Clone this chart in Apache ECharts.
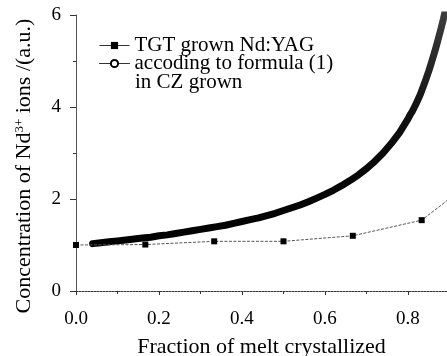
<!DOCTYPE html>
<html><head><meta charset="utf-8">
<script src="https://cdn.jsdelivr.net/npm/echarts@6/dist/echarts.min.js"></script>
<style>html,body{margin:0;padding:0;background:#fff}#c{width:447px;height:356px}</style>
</head><body><div id="c"></div>
<script>
const seriesNames = ['TGT grown Nd:YAG', 'accoding to formula (1)'];
const legendExtra = 'in CZ grown';
const xTitle = 'Fraction of melt crystallized';
const yTitle = 'Concentration of Nd{sup|3+} ions /(a.u.)';

const tgtX = [0, 0.167, 0.333, 0.5, 0.667, 0.833, 1.0];
const tgtY = [1.00, 1.01, 1.08, 1.08, 1.20, 1.54, 2.70];

const formulaX = [0.04,0.06,0.08,0.10,0.12,0.14,0.16,0.18,0.20,0.22,0.24,0.26,0.28,0.30,0.32,0.34,0.36,0.38,0.40,0.42,0.44,0.46,0.48,0.50,0.52,0.54,0.56,0.58,0.60,0.62,0.64,0.66,0.68,0.70,0.72,0.74,0.76,0.78,0.80,0.805,0.81,0.815,0.82,0.825,0.83,0.835,0.84,0.845,0.85,0.855,0.86,0.865,0.87,0.875,0.88,0.885,0.89,0.895];
const formulaY = [1.03,1.05,1.07,1.09,1.11,1.13,1.15,1.17,1.20,1.22,1.25,1.28,1.31,1.34,1.37,1.40,1.43,1.47,1.51,1.55,1.59,1.64,1.69,1.75,1.81,1.87,1.94,2.02,2.10,2.19,2.29,2.40,2.52,2.66,2.82,3.00,3.21,3.45,3.74,3.83,3.90,3.99,4.08,4.18,4.28,4.40,4.52,4.65,4.78,4.92,5.07,5.22,5.38,5.55,5.72,5.90,6.10,6.28];

const xMin = 0, xMax = 0.894, xInterval = 0.2;
const yMin = 0, yMax = 6, yInterval = 2;

const FONT = 'Liberation Serif';
const chart = echarts.init(document.getElementById('c'), null, {renderer: 'canvas'});
chart.setOption({
  animation: false,
  backgroundColor: '#fff',
  grid: {left: 76, right: 0, top: 15, bottom: 65, containLabel: false, outerBoundsMode: 'none'},
  xAxis: {
    type: 'value', min: xMin, max: xMax, interval: xInterval,
    name: xTitle, nameLocation: 'middle', nameGap: 45,
    nameTextStyle: {fontFamily: FONT, fontSize: 22, color: '#000'},
    axisLine: {show: true, onZero: false, lineStyle: {color: '#333', width: 1, type: [2, 1]}},
    axisTick: {show: true, inside: false, length: 4, lineStyle: {color: '#333'}},
    minorTick: {show: true, splitNumber: 2, length: 3, lineStyle: {color: '#333'}},
    splitLine: {show: false}, minorSplitLine: {show: false},
    axisLabel: {fontFamily: FONT, fontSize: 19, color: '#000', margin: 19, showMaxLabel: false,
      formatter: v => (Math.abs(v / xInterval - Math.round(v / xInterval)) < 1e-6 ? v.toFixed(1) : '')}
  },
  yAxis: {
    type: 'value', min: yMin, max: yMax, interval: yInterval,
    name: yTitle, nameLocation: 'middle', nameGap: 41,
    nameTextStyle: {fontFamily: FONT, fontSize: 22, color: '#000', padding: [0, 26, 0, 0],
      rich: {sup: {fontFamily: FONT, fontSize: 13, color: '#000', verticalAlign: 'top', padding: [0,0,8,0]}}},
    axisLine: {show: true, onZero: false, lineStyle: {color: '#555', width: 1}},
    axisTick: {show: true, inside: false, length: 6, lineStyle: {color: '#333'}},
    minorTick: {show: true, splitNumber: 2, length: 3, lineStyle: {color: '#333'}},
    splitLine: {show: false}, minorSplitLine: {show: false},
    axisLabel: {fontFamily: FONT, fontSize: 19, color: '#000', margin: 15}
  },
  legend: {
    orient: 'vertical', left: 99, top: 35, padding: 0, itemWidth: 30, itemHeight: 9, itemGap: -3,
    textStyle: {fontFamily: FONT, fontSize: 21, color: '#000', lineHeight: 18},
    data: [
      {name: seriesNames[0], lineStyle: {width: 1, color: '#333', type: 'solid'}, itemStyle: {color: '#000'}},
      {name: seriesNames[1], lineStyle: {width: 1, color: '#333', type: 'solid'}, itemStyle: {color: '#000', borderColor: '#000', borderWidth: 1}}
    ]
  },
  graphic: [{
    type: 'text', left: 135, top: 72,
    style: {text: legendExtra, font: '21px "Liberation Serif"', fill: '#000'}
  }],
  series: [
    {
      name: seriesNames[1], type: 'line',
      data: formulaX.map((x, i) => [x, formulaY[i]]),
      showSymbol: false, symbol: 'emptyCircle', symbolSize: 7,
      lineStyle: {width: 7, cap: 'round', join: 'round',
        color: new echarts.graphic.LinearGradient(0, 0, 0, 1, [
          {offset: 0, color: '#444'}, {offset: 0.45, color: '#111'}, {offset: 1, color: '#000'}])},
      itemStyle: {color: '#000', borderColor: '#000', borderWidth: 1},
      z: 2, clip: true
    },
    {
      name: seriesNames[0], type: 'line',
      data: tgtX.map((x, i) => [x, tgtY[i]]),
      symbol: 'rect', symbolSize: 6,
      lineStyle: {color: '#555', width: 1, type: [3, 1.5]},
      itemStyle: {color: '#000'},
      z: 3, clip: true
    }
  ]
});
</script></body></html>
